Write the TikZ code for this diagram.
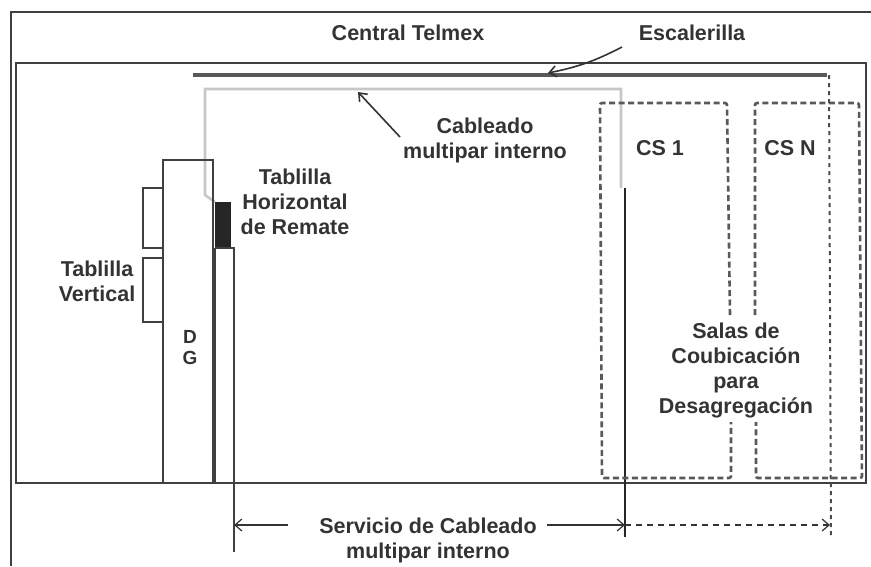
\documentclass[tikz,border=0pt]{standalone}
\usepackage{fontspec}
\setmainfont{Liberation Sans}
\usetikzlibrary{arrows.meta}

\begin{document}
\begin{tikzpicture}[x=1pt, y=-1pt,
    wall/.style={draw=black!75, line width=2.6pt},
    frame/.style={draw=black!75, line width=1.7pt},
    sala/.style={draw=black!65, line width=2.6pt, dash pattern=on 6pt off 3.5pt, rounded corners=2pt},
    lbl/.style={font=\fontsize{21.5}{25}\selectfont\bfseries, text=black!80, align=center, inner sep=0pt},
    ptr/.style={draw=black!80, line width=1.6pt, -{Straight Barb[length=7pt,width=11pt]}},
    dimarrow/.style={draw=black!80, line width=1.2pt, -{Straight Barb[length=7pt,width=12pt]}}]

    \useasboundingbox (0,0) rectangle (871,566);

    % Draw the outer frame and the building
    \draw[frame] (11,566) -- (11,12) -- (871,12);
    \draw[wall] (16,63) rectangle (866,483);

    % Draw the escalerilla and the internal cable
    \draw[black!65, line width=3.6pt] (193,75) -- (827,75);
    \draw[black!22, line width=2.6pt] (215,202) -- (205,195) -- (205,89) -- (621,89) -- (621,188);
    \draw[black!85, line width=1.5pt] (625,188) -- (625,537);

    % Draw the DG and its tablillas
    \draw[frame] (163,160) rectangle (213,483);
    \draw[black!75, line width=1.3pt] (143,188) rectangle (163,248);
    \draw[black!75, line width=1.3pt] (143,258) rectangle (163,322);
    \fill[black!85] (215,202) rectangle (231,248);
    \draw[frame] (215,248) -- (215,483);
    \draw[frame] (215,248) -- (234,248) -- (234,552);

    % Draw the coubicacion rooms
    \draw[sala] (730,315) -- (727,103) -- (600,103) -- (602,478) -- (731,478) -- (731,422);
    \draw[sala] (755,315) -- (755,103) -- (859,103) -- (862,478) -- (756,478) -- (756,422);
    \draw[black!70, line width=2pt, dash pattern=on 4pt off 4pt] (829,75) -- (831,537);

    % Labels
    \node[lbl] (telmex) at (408,33) {Central Telmex};
    \node[lbl] (escalerilla) at (692,33) {Escalerilla};
    \node[lbl] (cableado) at (485,140) {Cableado\\multipar interno};
    \node[lbl] (remate) at (295,202) {Tablilla\\Horizontal\\de Remate};
    \node[lbl] (vertical) at (97,281) {Tablilla\\Vertical};
    \node[lbl, font=\fontsize{19}{21}\selectfont\bfseries] (dg) at (190,348) {D\\G};
    \node[lbl] (cs1) at (660,148) {CS 1};
    \node[lbl] (csn) at (790,148) {CS N};
    \node[lbl] (salas) at (736,370) {Salas de\\Coubicaci\'on\\para\\Desagregaci\'on};
    \node[lbl] (servicio) at (428,540) {Servicio de Cableado\\multipar interno};

    % Pointers
    \coordinate (escTail) at (622,47);
    \coordinate (escTip) at (548,73);
    \draw[ptr] (escTail) to[bend left=8] (escTip);
    \coordinate (cabTail) at (400,137);
    \coordinate (cabTip) at (358,92);
    \draw[ptr] (cabTail) -- (cabTip);

    % Mark the service range
    \coordinate (left) at (234,525);
    \coordinate (mid) at (625,525);
    \coordinate (right) at (830,525);
    \draw[dimarrow] (288,525) -- (left);
    \draw[dimarrow] (547,525) -- (mid);
    \draw[dimarrow, dash pattern=on 6pt off 5pt] (mid) -- (right);
\end{tikzpicture}
\end{document}
